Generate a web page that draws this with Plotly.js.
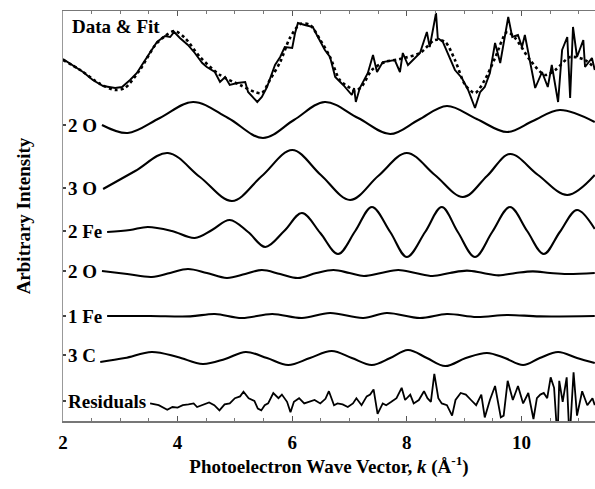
<!DOCTYPE html>
<html>
<head>
<meta charset="utf-8">
<script src="https://cdn.plot.ly/plotly-3.0.1.min.js"></script>
<style>
  html, body { margin: 0; padding: 0; background: #fff; }
  #chart { width: 595px; height: 489px; }
</style>
</head>
<body>
<div id="chart"></div>
<script>
// EXAFS chi(k): measured spectrum, total fit, single-shell contributions and residuals.

// Measured data
const kData = [2.00,2.17,2.35,2.52,2.70,2.91,3.03,3.17,3.29,3.40,3.52,3.64,3.78,3.87,3.94,4.04,4.18,4.30,4.43,4.51,
  4.65,4.74,4.83,4.91,5.04,5.18,5.23,5.39,5.47,5.56,5.70,5.79,5.87,6.00,6.05,6.10,6.22,6.36,6.43,6.49,
  6.57,6.66,6.75,6.89,7.04,7.08,7.11,7.18,7.32,7.41,7.48,7.58,7.79,7.88,7.93,8.02,8.23,8.35,8.40,8.51,
  8.54,8.63,8.75,8.84,8.96,9.07,9.19,9.28,9.36,9.45,9.54,9.63,9.77,9.84,9.94,10.01,10.06,10.15,10.24,10.36,
  10.46,10.53,10.64,10.71,10.80,10.85,10.90,10.97,11.08,11.11,11.23,11.28];
const chiData = [0.15,-0.15,-0.5,-0.9,-1.2,-1.3,-1.25,-0.9,-0.55,-0.05,0.5,1.0,1.3,1.25,1.5,1.2,0.85,0.45,-0.05,-0.25,
  -0.5,-1.0,-0.75,-1.15,-1.05,-1.0,-1.5,-2.0,-1.75,-1.25,-0.15,0.25,0.75,0.7,1.45,1.95,1.85,1.75,1.35,1.0,
  0.6,0.25,-0.75,-1.15,-1.65,-1.3,-2.0,-1.3,-0.55,0.35,-0.5,0,0.1,-0.5,0.45,-0.15,0.45,1.5,0.75,2.45,
  1.2,1.0,0.25,-0.4,-0.8,-1.4,-2.3,-1.5,-1.25,-0.55,0.95,-0.05,2.25,1.25,1.35,0.75,1.35,0.1,-1.3,-0.5,
  -1.25,-0.15,-2.0,0.6,1.25,-1.8,1.75,0.25,1.1,-0.25,0.2,-0.4];

// Total fit
const kFit = [2.00,2.30,2.65,2.91,3.08,3.34,3.61,3.78,3.95,4.13,4.39,4.74,5.09,5.35,5.47,5.61,5.79,5.96,6.14,6.31,
  6.49,6.66,6.83,7.01,7.10,7.22,7.39,7.62,7.88,8.23,8.49,8.67,8.84,9.02,9.19,9.36,9.54,9.75,9.89,10.15,
  10.41,10.59,10.85,11.11,11.28];
const chiFit = [0.1,-0.4,-1.1,-1.4,-1.3,-0.4,0.85,1.3,1.55,1.2,0.25,-0.65,-1.15,-1.5,-1.55,-0.9,0,1.2,1.9,1.85,
  1.1,0.25,-0.9,-1.3,-1.45,-1.2,-0.4,0,0.15,0.45,1.1,1.0,0.1,-1.15,-1.55,-0.9,0.2,1.5,1.2,0.1,
  -0.65,-0.4,0.25,0.1,-0.3];

// Shell: 2 O
const kO2a = [2.68,3.13,3.69,4.27,4.88,5.49,6.03,6.57,7.15,7.71,8.20,8.70,9.22,9.75,10.20,10.67,11.28];
const chiO2a = [-0.25,-0.65,0.1,0.9,0.1,-0.9,0,0.9,0.1,-0.7,0,0.7,0.05,-0.6,-0.05,0.5,-0.1];

// Shell: 3 O
const kO3 = [2.70,3.26,3.83,4.39,4.95,5.47,6.00,6.50,7.01,7.50,8.00,8.49,8.98,9.40,9.80,10.29,10.80,11.28];
const chiO3 = [-0.65,0.25,1.15,-0.05,-1.25,0,1.3,0.05,-1.2,0,1.15,0.05,-1.05,0,1.1,0.05,-0.95,0.05];

// Shell: 2 Fe
const kFe2 = [2.77,3.17,3.48,3.90,4.30,4.60,4.91,5.23,5.53,5.86,6.17,6.49,6.80,7.10,7.39,7.71,8.00,8.32,8.61,8.89,
  9.19,9.49,9.80,10.10,10.39,10.67,10.97,11.28];
const chiFe2 = [-0.05,0.05,0.2,0,-0.35,0.05,0.55,-0.05,-0.8,0,0.9,-0.1,-1.15,0,1.2,-0.05,-1.3,-0.05,1.2,-0.05,
  -1.3,-0.05,1.2,0,-1.15,-0.05,1.05,0.1];

// Shell: 2 O (second)
const kO2b = [2.68,3.12,3.55,3.87,4.18,4.51,4.86,5.18,5.47,5.79,6.10,6.42,6.72,7.00,7.25,7.55,7.85,8.15,8.45,8.75,
  9.05,9.33,9.60,9.90,10.20,10.50,10.80,11.28];
const chiO2b = [0.1,-0.05,-0.2,0,0.2,0,-0.25,-0.05,0.15,-0.05,-0.25,0,0.15,0,-0.15,0,0.15,0,-0.15,0,
  0.12,0,-0.12,0,0.08,0,-0.05,0];

// Shell: 1 Fe
const kFe1 = [2.77,3.52,4.22,4.65,5.12,5.65,6.17,6.66,7.24,7.65,8.23,8.70,9.22,9.75,10.32,11.28];
const chiFe1 = [0,0,-0.02,0.1,-0.1,0.1,-0.1,0.15,-0.1,0.15,-0.1,0.1,-0.05,0.05,-0.02,0];

// Shell: 3 C
const kC3 = [2.65,3.08,3.55,4.00,4.44,4.83,5.19,5.56,5.93,6.31,6.69,7.04,7.39,7.71,8.02,8.35,8.67,9.03,9.40,9.71,
  10.03,10.32,10.64,10.97,11.28];
const chiC3 = [-0.2,0,0.3,0.05,-0.3,-0.05,0.3,0,-0.35,0,0.35,0,-0.35,0,0.4,0,-0.4,0,0.25,0,
  -0.35,0,0.3,0,-0.25];

// Residuals (data - fit)
const kRes = [3.52,3.67,3.82,3.91,4.00,4.09,4.19,4.28,4.34,4.46,4.55,4.64,4.73,4.82,4.91,5.00,5.09,5.15,5.24,5.34,
  5.40,5.46,5.52,5.58,5.67,5.76,5.82,5.91,5.97,6.03,6.12,6.21,6.30,6.39,6.49,6.58,6.64,6.73,6.79,6.88,
  6.97,7.06,7.12,7.21,7.30,7.36,7.42,7.49,7.58,7.64,7.73,7.82,7.91,7.97,8.06,8.12,8.21,8.30,8.36,8.42,
  8.48,8.55,8.61,8.70,8.79,8.85,8.94,9.03,9.12,9.21,9.30,9.36,9.45,9.54,9.64,9.69,9.76,9.85,9.94,10.03,
  10.12,10.21,10.27,10.33,10.39,10.45,10.51,10.57,10.63,10.66,10.72,10.79,10.84,10.91,10.97,11.06,11.15,11.24,11.28];
const chiRes = [-0.17,-0.26,-0.49,-0.35,-0.38,-0.26,-0.22,-0.17,-0.35,-0.22,-0.12,-0.26,-0.52,-0.22,-0.17,0.09,0.18,0.41,0.09,-0.05,
  -0.43,-0.52,-0.26,-0.17,0.35,0.09,0.27,-0.09,-0.61,-0.09,0.09,-0.17,-0.09,0,-0.17,0.06,0.44,-0.26,-0.17,-0.22,
  -0.35,-0.17,0.09,-0.26,0.18,0.27,0.53,-0.69,-0.17,-0.26,-0.09,0.09,0.61,0,0.27,-0.17,0,0.44,0.09,-0.09,
  1.31,0.09,-0.17,-0.26,-0.78,0,0.35,0.27,0,-0.26,0.27,-0.87,0,0.70,-0.87,-0.78,0.96,0,0.70,-0.17,
  0.35,-0.95,0.09,0.27,0.35,0.09,1.13,0.61,-2.0,0.96,-0.09,1.13,-2.0,1.39,-0.78,0.44,-0.26,0.09,-0.26];

const tickValsK = [2, 4, 6, 8, 10];
const shellLabels = ["2 O", "3 O", "2 Fe", "2 O", "1 Fe", "3 C", "Residuals"];

// ---- stacking and styling ----
const FONT = "Liberation Serif, Times New Roman, serif";
const black = "#000";

// vertical offset applied to each curve in the stack
function shifted(vals, off) { return vals.map(v => v + off); }

const stack = [
  { k: kO2a, chi: chiO2a, off: 15.05, labelY: 14.8 },
  { k: kO3,  chi: chiO3,  off: 12.25, labelY: 11.65 },
  { k: kFe2, chi: chiFe2, off: 9.5,   labelY: 9.5 },
  { k: kO2b, chi: chiO2b, off: 7.4,   labelY: 7.5 },
  { k: kFe1, chi: chiFe1, off: 5.25,  labelY: 5.25 },
  { k: kC3,  chi: chiC3,  off: 3.15,  labelY: 3.3 },
  { k: kRes, chi: chiRes, off: 1.05,  labelY: 1.0, raw: true }
];
const topOff = 17.95;

const traces = [
  { x: kFit, y: shifted(chiFit, topOff), mode: "lines", name: "Fit",
    line: { color: black, width: 2.6, dash: "dot", shape: "spline", smoothing: 0.8 } },
  { x: kData, y: shifted(chiData, topOff), mode: "lines", name: "Data",
    line: { color: black, width: 1.9 } }
];
stack.forEach((s, i) => {
  traces.push({
    x: s.k, y: shifted(s.chi, s.off), mode: "lines", name: shellLabels[i],
    line: s.raw ? { color: black, width: 1.8 }
                : { color: black, width: 2.1, shape: "spline", smoothing: 1 }
  });
});

const labelFont = { family: FONT, size: 19, color: black, weight: "bold" };
const annotations = [
  { xref: "paper", yref: "y", x: 0, xshift: 7, y: 19.75, xanchor: "left", yanchor: "middle",
    text: "Data &amp; Fit", showarrow: false, font: labelFont }
];
stack.forEach((s, i) => {
  annotations.push({ xref: "paper", yref: "y", x: 0, xshift: 3, y: s.labelY, xanchor: "left",
    yanchor: "middle", text: shellLabels[i], showarrow: false, font: labelFont });
});

const layout = {
  width: 595, height: 489,
  margin: { l: 63, r: 0, t: 11, b: 68 },
  paper_bgcolor: "#fff", plot_bgcolor: "#fff",
  showlegend: false,
  font: { family: FONT, color: black },
  xaxis: {
    range: [2, 11.284], tickvals: tickValsK,
    ticks: "inside", ticklen: 5, tickwidth: 1.2, tickcolor: "#555",
    minor: { tick0: 2, dtick: 0.5, ticks: "inside", ticklen: 3, tickwidth: 1, tickcolor: "#777" },
    showline: true, linecolor: "#777", linewidth: 1.5, mirror: "ticks",
    showgrid: false, zeroline: false,
    tickfont: { family: FONT, size: 19, color: black, weight: "bold" },
    ticklabelstandoff: 4,
    title: { text: "Photoelectron Wave Vector, <i>k</i> (Å<sup>-1</sup>)",
             font: { family: FONT, size: 19, color: black, weight: "bold" }, standoff: 6 }
  },
  yaxis: {
    range: [0, 20.5], tickvals: stack.map(s => s.labelY), showticklabels: false,
    ticks: "inside", ticklen: 3, tickwidth: 1.2, tickcolor: "#444",
    showline: true, linecolor: "#999", linewidth: 1,
    showgrid: false, zeroline: false,
    title: { text: "Arbitrary Intensity",
             font: { family: FONT, size: 19, color: black, weight: "bold" }, standoff: 26 }
  },
  annotations: annotations
};

Plotly.newPlot("chart", traces, layout, { displayModeBar: false, staticPlot: true });
</script>
</body>
</html>
